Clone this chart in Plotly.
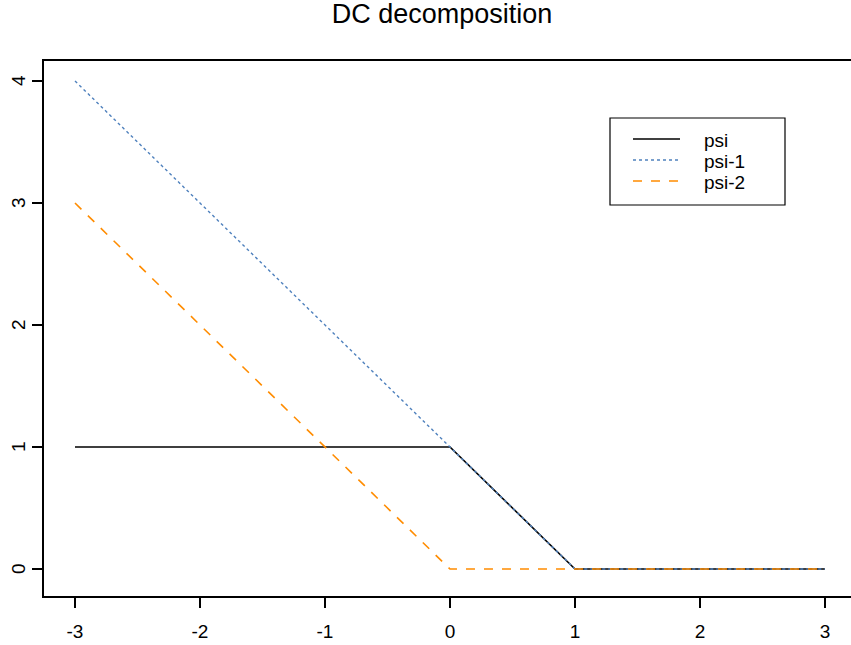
import plotly.graph_objects as go

# ---- data ----
x_vals = [-3, 0, 1, 3]
psi = [1, 1, 0, 0]
psi_1 = [4, 1, 0, 0]
psi_2 = [3, 0, 0, 0]
series_names = ["psi", "psi-1", "psi-2"]
x_ticks = [-3, -2, -1, 0, 1, 2, 3]
y_ticks = [0, 1, 2, 3, 4]
title_text = "DC decomposition"

W, H = 851, 645
L, R, T, B = 44, 0, 61, 49
pw, ph = W - L - R, H - T - B

def px(xp):
    return (xp - L) / pw

def py(yp):
    return (H - B - yp) / ph

colors = ["#000000", "#4F81BD", "#FF8C00"]
dashes = ["solid", "dot", "dash"]
widths = [1.6, 1.4, 1.6]
ys = [psi, psi_1, psi_2]

fig = go.Figure()
for name, yv, c, d, w in zip(series_names, ys, colors, dashes, widths):
    fig.add_trace(go.Scatter(x=x_vals, y=yv, mode="lines", name=name,
                             line=dict(color=c, dash=d, width=w),
                             showlegend=False))

font = "Liberation Sans, Arial, sans-serif"
fig.update_layout(
    width=W, height=H,
    margin=dict(l=L, r=R, t=T, b=B),
    paper_bgcolor="white", plot_bgcolor="white",
    title=dict(text=title_text, x=442 / W, xanchor="center",
               y=1 - 14 / H, yanchor="middle",
               font=dict(family=font, size=27, color="black")),
    font=dict(family=font, color="black"),
    xaxis=dict(range=[-3.248, 3.208], tickvals=x_ticks, ticktext=[str(v) for v in x_ticks],
               showgrid=False, zeroline=False, showline=True, linecolor="black", linewidth=1.5,
               mirror=True, ticks="outside", ticklen=10, tickwidth=1.5, tickcolor="black",
               tickfont=dict(size=19, family=font), ticklabelstandoff=7),
    yaxis=dict(range=[-0.221, 4.164], tickvals=y_ticks, showticklabels=False,
               showgrid=False, zeroline=False, showline=True, linecolor="black", linewidth=1.5,
               ticks="outside", ticklen=10, tickwidth=1.5, tickcolor="black"),
)

# y tick labels, rotated as in R (parallel to axis)
for v in y_ticks:
    fig.add_annotation(xref="paper", yref="y", x=px(18), y=v, text=str(v),
                       showarrow=False, textangle=-90, xanchor="center", yanchor="middle",
                       font=dict(family=font, size=19, color="black"))

# legend box (R-style)
fig.add_shape(type="rect", xref="paper", yref="paper",
              x0=px(610), x1=px(785), y0=py(205), y1=py(118),
              line=dict(color="black", width=1.2), fillcolor="white", layer="above")
rows = [139, 160, 181]
for name, c, d, w, r in zip(series_names, colors, dashes, widths, rows):
    fig.add_shape(type="line", xref="paper", yref="paper",
                  x0=px(633), x1=px(680), y0=py(r), y1=py(r),
                  line=dict(color=c, dash=d, width=w), layer="above")
    fig.add_annotation(xref="paper", yref="paper", x=px(702), y=py(r + 1),
                       text=name, showarrow=False, xanchor="left", yanchor="middle",
                       font=dict(family=font, size=19, color="black"))

fig.write_html("out.html", config={"displayModeBar": False},
               post_script="document.body.style.margin='0';document.body.style.padding='0';")
